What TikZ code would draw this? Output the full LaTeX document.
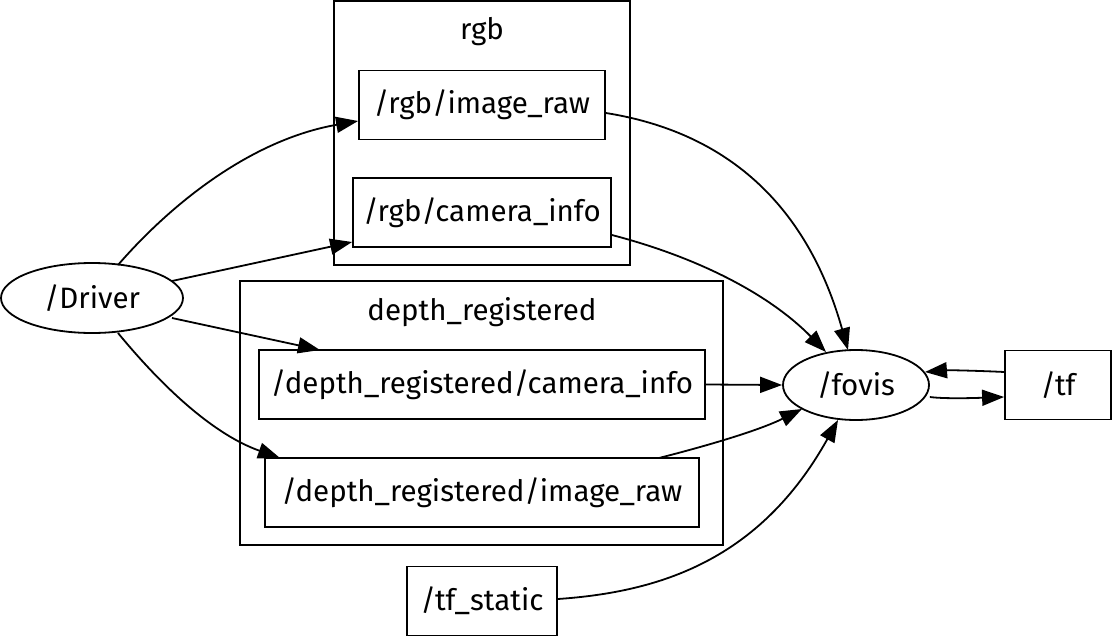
\documentclass[tikz,border=0pt]{standalone}
\usepackage{fontspec}
\setmainfont{Fira Sans}
\usetikzlibrary{arrows.meta,shapes.geometric}
\begin{document}
\begin{tikzpicture}[x=1pt,y=-1pt,
  every node/.style={font=\fontsize{29.5}{32}\selectfont, inner sep=0pt},
  topic/.style={draw, line width=1.8pt, rectangle, minimum height=69pt},
  proc/.style={draw, line width=1.8pt, ellipse},
  cluster/.style={draw, line width=1.8pt},
  edge/.style={line width=1.8pt, -{Triangle[length=22pt,width=16pt]}}]
\useasboundingbox (0,0) rectangle (1112,637);
\node[cluster, minimum width=296pt, minimum height=264pt] (rgbc) at (482,133) {};
\node (rgbl) at (482,32) {rgb};
\node[cluster, minimum width=483pt, minimum height=264pt] (depc) at (481.5,413) {};
\node (depl) at (482,312) {depth\_registered};
\node[proc, minimum width=182pt, minimum height=70pt] (driver) at (92,298) {/Driver};
\node[proc, minimum width=146pt, minimum height=70pt] (fovis) at (856,385) {/fovis};
\node[topic, minimum width=246pt] (rgbimg) at (482,105) {/rgb/image\_raw};
\node[topic, minimum width=258pt] (rgbcam) at (482,212.5) {/rgb/camera\_info};
\node[topic, minimum width=446pt] (depcam) at (482,384.5) {/depth\_registered/camera\_info};
\node[topic, minimum width=434pt] (depimg) at (482,492.5) {/depth\_registered/image\_raw};
\node[topic, minimum width=106pt] (tf) at (1058,385) {/tf};
\node[topic, minimum width=150pt] (tfs) at (482,601) {/tf\_static};

\coordinate (d1) at (118,265);
\coordinate (d2) at (172,281);
\coordinate (d3) at (172,318);
\coordinate (d4) at (118,333);
\draw[edge] (d1) .. controls (170,205) and (250,140) .. (rgbimg.west |- 0,121);
\draw[edge] (d2) -- (rgbcam.west |- 0,242);
\draw[edge] (d3) -- (320,350);
\draw[edge] (d4) .. controls (165,390) and (215,435) .. (280,458);
\draw[edge] (rgbimg.east |- 0,113) .. controls (700,128) and (800,180) .. (848,350);
\draw[edge] (rgbcam.east |- 0,235) .. controls (700,258) and (770,295) .. (826,352);
\draw[edge] (depcam.east) -- (fovis.west);
\draw[edge] (659,458) .. controls (710,445) and (760,430) .. (802,409);
\draw[edge] (tfs.east |- 0,599) .. controls (660,592) and (760,560) .. (838,420);
\draw[edge] (tf.west |- 0,372) .. controls (985,371) and (950,370) .. (925,372);
\draw[edge] (fovis.east |- 0,397) .. controls (945,399) and (975,398) .. (tf.west |- 0,397);
\end{tikzpicture}
\end{document}
